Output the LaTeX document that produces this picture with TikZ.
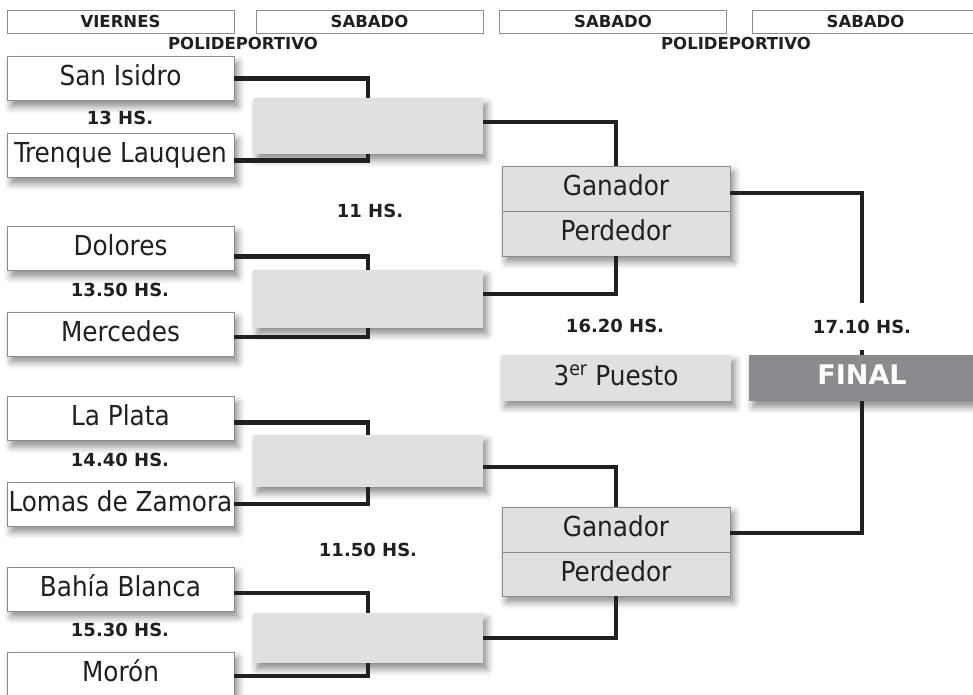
\documentclass[tikz,border=0pt]{standalone}
\usepackage{fontspec}
\setmainfont{DejaVu Sans}
\newfontfamily\condfont{DejaVu Sans Condensed}
\usetikzlibrary{shadows.blur}
\definecolor{ink}{HTML}{231F20}
\definecolor{lgrey}{HTML}{DFE0E1}
\definecolor{dgrey}{HTML}{8A8B8E}
\definecolor{bgrey}{HTML}{8C8C8C}
\tikzset{
  shd/.style={blur shadow={shadow xshift=4pt, shadow yshift=-6pt, shadow blur radius=7pt, shadow opacity=45}},
  hdr/.style={draw=bgrey, line width=0.9pt, fill=white, minimum width=227pt, minimum height=23pt, inner sep=0pt,
    font=\bfseries\fontsize{16.5}{16.5}\selectfont, text=ink, text height=12pt, text depth=0pt},
  venue/.style={inner sep=0pt, font=\bfseries\fontsize{16.5}{16.5}\selectfont, text=ink, text height=12pt, text depth=0pt},
  team/.style={draw=bgrey, line width=0.9pt, fill=white, minimum width=227pt, minimum height=44pt, inner sep=0pt,
    font=\condfont\fontsize{27.5}{27.5}\selectfont, text=ink, text height=20pt, text depth=6pt, shd},
  hour/.style={inner sep=0pt, font=\bfseries\fontsize{18}{18}\selectfont, text=ink, text height=13pt, text depth=0pt},
  gbox/.style={fill=lgrey, minimum width=230pt, inner sep=0pt, shd},
  sfbox/.style={draw=bgrey, line width=0.9pt, fill=lgrey, minimum width=228pt, minimum height=45pt, inner sep=0pt,
    font=\condfont\fontsize{27.5}{27.5}\selectfont, text=ink, text height=20pt, text depth=6pt},
  link/.style={draw=ink, line width=4.6pt, line join=miter},
}
\begin{document}
\begin{tikzpicture}[x=1pt,y=-1pt]
\useasboundingbox (0,0) rectangle (973,694);
% headers
\node[hdr] (h1) at (120.5,21.5) {VIERNES};
\node[hdr] (h2) at (369.5,21.5) {SABADO};
\node[hdr] (h3) at (613,21.5) {SABADO};
\node[hdr] (h4) at (865.5,21.5) {SABADO};
\node[venue] (v1) at (243,43.5) {POLIDEPORTIVO};
\node[venue] (v2) at (736,43.5) {POLIDEPORTIVO};
% first round
\node[team] (sanisidro) at (120.5,78.5) {San Isidro};
\node[team] (trenque) at (120.5,155.5) {Trenque Lauquen};
\node[team] (dolores) at (120.5,248.5) {Dolores};
\node[team] (mercedes) at (120.5,334) {Mercedes};
\node[team] (laplata) at (120.5,418.5) {La Plata};
\node[team] (lomas) at (120.5,504) {Lomas de Zamora};
\node[team] (bahia) at (120.5,589) {Bahía Blanca};
\node[team] (moron) at (120.5,674) {Morón};
% second round
\node[gbox, minimum height=56pt] (r1) at (368,126) {};
\node[gbox, minimum height=58pt] (r2) at (368,299) {};
\node[gbox, minimum height=52pt] (r3) at (368,461) {};
\node[gbox, minimum height=50pt] (r4) at (368,638) {};
% semifinals
\node[fill=lgrey, minimum width=228pt, minimum height=90pt, inner sep=0pt, shd] (sf1) at (616,211) {};
\node[sfbox] (g1) at (616,188.5) {Ganador};
\node[sfbox] (p1) at (616,233.5) {Perdedor};
\node[fill=lgrey, minimum width=228pt, minimum height=89pt, inner sep=0pt, shd] (sf2) at (616,551.5) {};
\node[sfbox] (g2) at (616,529.5) {Ganador};
\node[sfbox, minimum height=44pt] (p2) at (616,574) {Perdedor};
% third place and final
\node[gbox, minimum height=46pt, font=\condfont\fontsize{27.5}{27.5}\selectfont, text=ink, text height=20pt, text depth=6pt] (third) at (616,378) {3\textsuperscript{er} Puesto};
\node[fill=dgrey, minimum width=226pt, minimum height=46pt, inner sep=0pt, text=white,
  font=\bfseries\fontsize{27}{27}\selectfont, text height=20pt, text depth=8pt, shd] (final) at (862,378) {FINAL};
% connectors
\draw[link] (sanisidro.east) -| (r1.north);
\draw[link] ([yshift=-5pt]trenque.east) -| (r1.south);
\draw[link] ([yshift=-8pt]dolores.east) -| (r2.north);
\draw[link] ([yshift=-3pt]mercedes.east) -| (r2.south);
\draw[link] ([yshift=-4pt]laplata.east) -| (r3.north);
\draw[link] (lomas.east) -| (r3.south);
\draw[link] ([yshift=-4pt]bahia.east) -| (r4.north);
\draw[link] ([yshift=-2pt]moron.east) -| (r4.south);
\draw[link] ([yshift=4pt]r1.east) -| (g1.north);
\draw[link] ([yshift=5pt]r2.east) -| (p1.south);
\draw[link] ([yshift=-6pt]r3.east) -| (g2.north);
\draw[link] (r4.east) -| (p2.south);
\draw[link] ([yshift=-4.5pt]g1.east) -| (final.north);
\draw[link] ([yshift=-3.5pt]g2.east) -| (final.south);
% times
\node[hour] (t1) at (120,118) {13 HS.};
\node[hour] (t2) at (370,210.5) {11 HS.};
\node[hour] (t3) at (120,289.5) {13.50 HS.};
\node[hour] (t4) at (120,459.5) {14.40 HS.};
\node[hour] (t5) at (368,549.5) {11.50 HS.};
\node[hour] (t6) at (120,629.5) {15.30 HS.};
\node[hour] (t7) at (615,325.5) {16.20 HS.};
\node[hour, fill=white, minimum height=47pt, minimum width=20pt] (t8) at (862,326.5) {17.10 HS.};
\end{tikzpicture}
\end{document}
